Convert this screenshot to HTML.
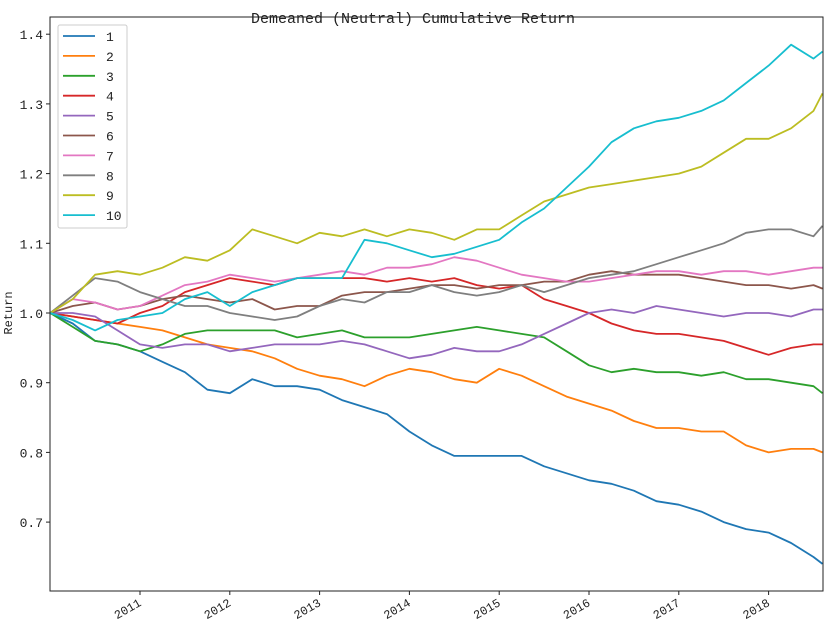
<!DOCTYPE html>
<html><head><meta charset="utf-8"><style>
body{margin:0;background:#fff;}
svg text{font-family:"Liberation Mono","WenQuanYi Zen Hei",monospace;fill:#222;}
</style></head><body>
<svg id="c" width="831" height="630" xmlns="http://www.w3.org/2000/svg"></svg>
<script>
const years=[2010,2010.25,2010.5,2010.75,2011,2011.25,2011.5,2011.75,2012,2012.25,2012.5,2012.75,2013,2013.25,2013.5,2013.75,2014,2014.25,2014.5,2014.75,2015,2015.25,2015.5,2015.75,2016,2016.25,2016.5,2016.75,2017,2017.25,2017.5,2017.75,2018,2018.25,2018.5,2018.6];
const seriesNames=["1","2","3","4","5","6","7","8","9","10"];
const colors=["#1f77b4","#ff7f0e","#2ca02c","#d62728","#9467bd","#8c564b","#e377c2","#7f7f7f","#bcbd22","#17becf"];
const s1=[1.0,0.985,0.96,0.955,0.945,0.93,0.915,0.89,0.885,0.905,0.895,0.895,0.89,0.875,0.865,0.855,0.83,0.81,0.795,0.795,0.795,0.795,0.78,0.77,0.76,0.755,0.745,0.73,0.725,0.715,0.7,0.69,0.685,0.67,0.65,0.64];
const s2=[1.0,0.995,0.99,0.985,0.98,0.975,0.965,0.955,0.95,0.945,0.935,0.92,0.91,0.905,0.895,0.91,0.92,0.915,0.905,0.9,0.92,0.91,0.895,0.88,0.87,0.86,0.845,0.835,0.835,0.83,0.83,0.81,0.8,0.805,0.805,0.8];
const s3=[1.0,0.98,0.96,0.955,0.945,0.955,0.97,0.975,0.975,0.975,0.975,0.965,0.97,0.975,0.965,0.965,0.965,0.97,0.975,0.98,0.975,0.97,0.965,0.945,0.925,0.915,0.92,0.915,0.915,0.91,0.915,0.905,0.905,0.9,0.895,0.885];
const s4=[1.0,0.995,0.99,0.985,1.0,1.01,1.03,1.04,1.05,1.045,1.04,1.05,1.05,1.05,1.05,1.045,1.05,1.045,1.05,1.04,1.035,1.04,1.02,1.01,1.0,0.985,0.975,0.97,0.97,0.965,0.96,0.95,0.94,0.95,0.955,0.955];
const s5=[1.0,1.0,0.995,0.975,0.955,0.95,0.955,0.955,0.945,0.95,0.955,0.955,0.955,0.96,0.955,0.945,0.935,0.94,0.95,0.945,0.945,0.955,0.97,0.985,1.0,1.005,1.0,1.01,1.005,1.0,0.995,1.0,1.0,0.995,1.005,1.005];
const s6=[1.0,1.01,1.015,1.005,1.01,1.02,1.025,1.02,1.015,1.02,1.005,1.01,1.01,1.025,1.03,1.03,1.035,1.04,1.04,1.035,1.04,1.04,1.045,1.045,1.055,1.06,1.055,1.055,1.055,1.05,1.045,1.04,1.04,1.035,1.04,1.035];
const s7=[1.0,1.02,1.015,1.005,1.01,1.025,1.04,1.045,1.055,1.05,1.045,1.05,1.055,1.06,1.055,1.065,1.065,1.07,1.08,1.075,1.065,1.055,1.05,1.045,1.045,1.05,1.055,1.06,1.06,1.055,1.06,1.06,1.055,1.06,1.065,1.065];
const s8=[1.0,1.025,1.05,1.045,1.03,1.02,1.01,1.01,1.0,0.995,0.99,0.995,1.01,1.02,1.015,1.03,1.03,1.04,1.03,1.025,1.03,1.04,1.03,1.04,1.05,1.055,1.06,1.07,1.08,1.09,1.1,1.115,1.12,1.12,1.11,1.125];
const s9=[1.0,1.02,1.055,1.06,1.055,1.065,1.08,1.075,1.09,1.12,1.11,1.1,1.115,1.11,1.12,1.11,1.12,1.115,1.105,1.12,1.12,1.14,1.16,1.17,1.18,1.185,1.19,1.195,1.2,1.21,1.23,1.25,1.25,1.265,1.29,1.315];
const s10=[1.0,0.99,0.975,0.99,0.995,1.0,1.02,1.03,1.01,1.03,1.04,1.05,1.05,1.05,1.105,1.1,1.09,1.08,1.085,1.095,1.105,1.13,1.15,1.18,1.21,1.245,1.265,1.275,1.28,1.29,1.305,1.33,1.355,1.385,1.365,1.375];
const yTicks=[0.7,0.8,0.9,1.0,1.1,1.2,1.3,1.4];
const xTicks=[2011,2012,2013,2014,2015,2016,2017,2018];
const allSeries=[s1,s2,s3,s4,s5,s6,s7,s8,s9,s10];

const L=50,R=823,T=17,B=591;
const X=y=>50.2+(y-2010)*89.8;
const Y=v=>313-(v-1.0)*697;
const svg=document.getElementById('c');
const NS='http://www.w3.org/2000/svg';
function mk(t,a,p){const e=document.createElementNS(NS,t);for(const k in a)e.setAttribute(k,a[k]);(p||svg).appendChild(e);return e;}

allSeries.forEach((s,i)=>{
  const pts=s.map((v,j)=>X(years[j]).toFixed(1)+','+Y(v).toFixed(1)).join(' ');
  const pl=mk('polyline',{points:pts,fill:'none',stroke:colors[i],'stroke-width':1.8,'stroke-linejoin':'round'});
  
  
});
mk('rect',{x:R+1,y:0,width:20,height:630,fill:'#fff'});
const frame=mk('rect',{x:L,y:T,width:R-L,height:B-T,fill:'none',stroke:'#222','stroke-width':1});



yTicks.forEach(v=>{
  const y=Y(v);
  mk('line',{x1:L-4,x2:L,y1:y,y2:y,stroke:'#222'});
  const t=mk('text',{x:L-7,y:y+5,'text-anchor':'end','font-size':13});
  t.textContent=v.toFixed(1);
  
  
});
xTicks.forEach(v=>{
  const x=X(v);
  mk('line',{x1:x,x2:x,y1:B,y2:B+4,stroke:'#222'});
  const t=mk('text',{x:x+2,y:B+14,'text-anchor':'end','font-size':12,transform:`rotate(-30 ${x+2} ${B+14})`});
  t.textContent=v;
  
  
});
const yt=mk('text',{x:12,y:313,'text-anchor':'middle','font-size':12,transform:'rotate(-90 12 313)'});
yt.textContent='Return';


const tt=mk('text',{x:413,y:23,'text-anchor':'middle','font-size':15});
tt.textContent='Demeaned (Neutral) Cumulative Return';



const lg=mk('g',{});


mk('rect',{x:58,y:25,width:69,height:203,rx:2,fill:'#fff',stroke:'#ccc'},lg);
seriesNames.forEach((n,i)=>{
  const y=36+i*19.9;
  const ln=mk('line',{x1:63,x2:95,y1:y,y2:y,stroke:colors[i],'stroke-width':1.8},lg);
  
  
  const t=mk('text',{x:106,y:y+5,'font-size':13},lg);
  t.textContent=n;
  
  
});
</script>
</body></html>
